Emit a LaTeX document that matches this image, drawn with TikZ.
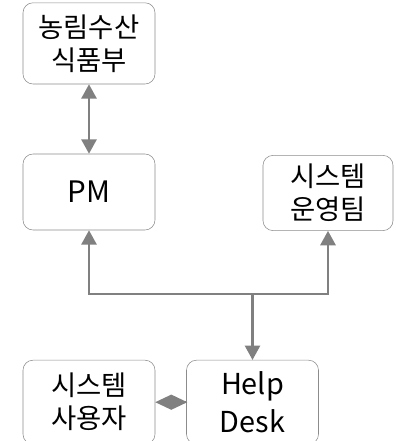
\documentclass[tikz,border=0pt]{standalone}
\usepackage{fontspec}
\setmainfont{Noto Sans CJK KR}
\usetikzlibrary{arrows.meta}

\begin{document}
\begin{tikzpicture}[
  box/.style={rectangle,rounded corners=0.25cm,draw=black!45,thin,align=center,
    minimum width=3.3cm,minimum height=1.95cm,inner sep=0pt,
    font=\fontsize{19.5}{23.5}\selectfont},
  link/.style={draw=black!50,line width=1.6pt},
  tip/.style={-{Triangle[width=0.38cm,length=0.36cm]}}
]
\useasboundingbox (0,0) rectangle (9.9,11.025);

\node[box,minimum height=2.03cm] (ministry) at (2.225,9.94) {농림수산\\식품부};
\node[box,minimum height=1.9cm,font=\fontsize{21}{25}\selectfont] (pm) at (2.225,6.225) {PM};
\node[box,minimum width=3.25cm,minimum height=1.88cm] (ops) at (8.2,6.2) {시스템\\운영팀};
\node[box,minimum height=2.1cm,font=\fontsize{20.5}{27}\selectfont] (help) at (6.3125,0.97) {Help\\Desk};
\node[box,minimum height=2.1cm] (user) at (2.225,0.97) {시스템\\사용자};
\coordinate (hub) at (6.3125,3.675);

\draw[link,{Triangle[width=0.38cm,length=0.36cm]}-{Triangle[width=0.38cm,length=0.36cm]}] (ministry.south) -- (pm.north);
\draw[link,tip] (hub) -| (pm.south);
\draw[link,tip] (hub) -| (ops.south);
\draw[link,tip] (hub) -- (help.north);
\draw[link,-{Diamond[width=0.38cm,length=0.8cm]}] (help.west) -- (user.east);

\end{tikzpicture}
\end{document}
